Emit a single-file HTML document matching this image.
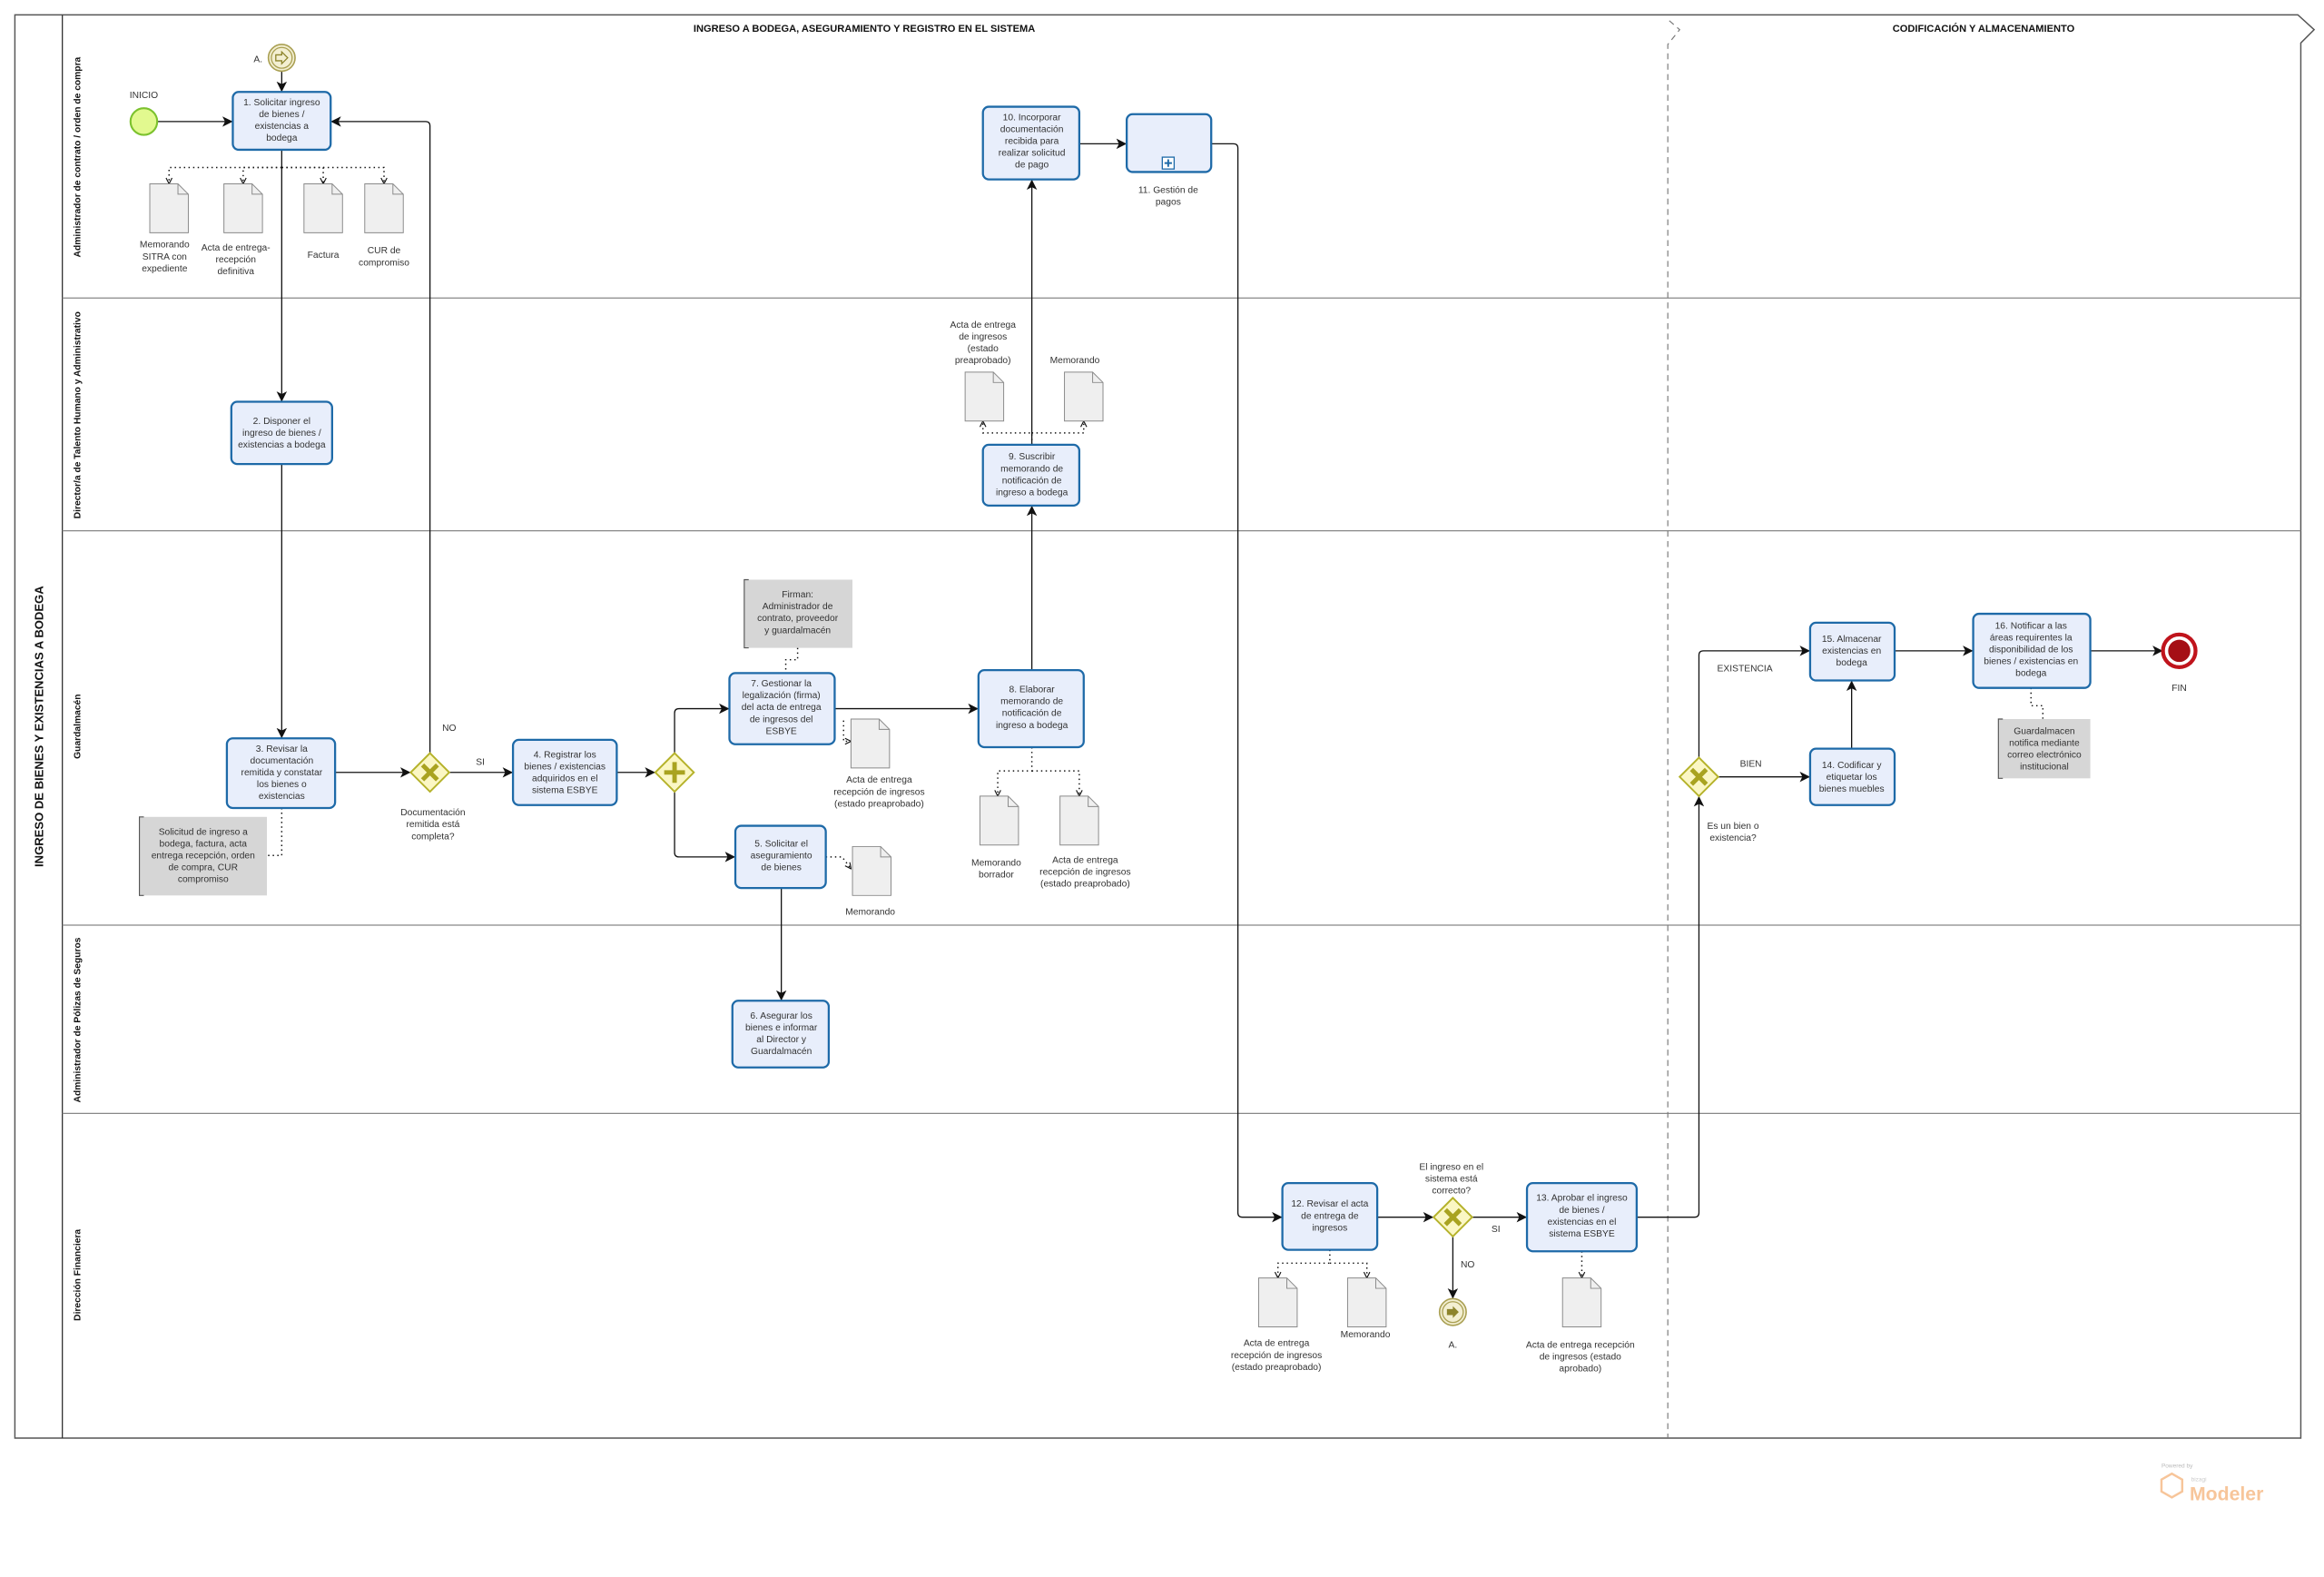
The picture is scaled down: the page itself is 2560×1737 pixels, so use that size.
<!DOCTYPE html>
<html><head><meta charset="utf-8"><style>
html,body{margin:0;padding:0;background:#fff;width:2560px;height:1737px;overflow:hidden}
svg{display:block}
text{font-family:"Liberation Sans",sans-serif;fill:#333;font-size:6.3px}
.t{text-anchor:middle}
.b{font-weight:bold;fill:#111}
.task{fill:#e8eefb;stroke:#1e6aa8;stroke-width:1.4}
.doc{fill:#efefef;stroke:#8a8a8a;stroke-width:.6}
.fl{fill:none;stroke:#111;stroke-width:.8}
.dt{fill:none;stroke:#111;stroke-width:.9;stroke-dasharray:.9 2.2}
.ann{fill:#d6d6d6;stroke:none}
.lane{stroke:#888;stroke-width:.8}
</style></head><body>
<svg width="2560" height="1737" viewBox="0 0 1567.6 1063.7" xmlns="http://www.w3.org/2000/svg">
<defs>
<marker id="a" viewBox="0 0 10 10" refX="10" refY="5" markerWidth="7" markerHeight="7" orient="auto" markerUnits="userSpaceOnUse"><path d="M0,0 L10,5 L0,10 L2.5,5 z" fill="#111"/></marker>
<marker id="o" viewBox="0 0 10 10" refX="9" refY="5" markerWidth="5" markerHeight="5" orient="auto" markerUnits="userSpaceOnUse"><path d="M1,1 L9,5 L1,9" fill="none" stroke="#111" stroke-width="1.4"/></marker>
<g id="d"><path d="M0,0 H19 L26,7 V33 H0 Z" class="doc"/><path d="M19,0 V7 H26" fill="none" stroke="#8a8a8a" stroke-width=".6"/></g>
<g id="gx"><path d="M0,-13 L13,0 L0,13 L-13,0 Z" fill="#fbf7c4" stroke="#b5b22a" stroke-width="1.2"/><path d="M-5,-5 L5,5 M5,-5 L-5,5" stroke="#a9a320" stroke-width="3"/></g>
</defs>
<!-- pool -->
<path d="M10,10 H1550 L1561,20 L1552,29 V970 H10 Z" fill="#fff" stroke="#555" stroke-width=".9"/>
<line x1="42" y1="10" x2="42" y2="970" stroke="#333" stroke-width=".8"/>
<line x1="42" y1="201" x2="1552" y2="201" class="lane"/>
<line x1="42" y1="358" x2="1552" y2="358" class="lane"/>
<line x1="42" y1="624" x2="1552" y2="624" class="lane"/>
<line x1="42" y1="751" x2="1552" y2="751" class="lane"/>
<path d="M1126,14 L1133,20 L1125,30 V970" fill="none" stroke="#777" stroke-width=".7" stroke-dasharray="4 3"/>
<text x="583" y="21.5" class="t b" style="font-size:6.8px">INGRESO A BODEGA, ASEGURAMIENTO Y REGISTRO EN EL SISTEMA</text>
<text x="1338" y="21.5" class="t b" style="font-size:6.8px">CODIFICACIÓN Y ALMACENAMIENTO</text>
<text transform="translate(29,490) rotate(-90)" class="t b" style="font-size:8px">INGRESO DE BIENES Y EXISTENCIAS A BODEGA</text>
<text transform="translate(54,106) rotate(-90)" class="t b">Administrador de contrato / orden de compra</text>
<text transform="translate(54,280) rotate(-90)" class="t b">Director/a de Talento Humano y Administrativo</text>
<text transform="translate(54,490) rotate(-90)" class="t b">Guardalmacén</text>
<text transform="translate(54,688) rotate(-90)" class="t b">Administrador de Pólizas de Seguros</text>
<text transform="translate(54,860) rotate(-90)" class="t b">Dirección Financiera</text>

<!-- flows -->
<line x1="106" y1="82" x2="157" y2="82" class="fl" marker-end="url(#a)"/>
<line x1="190" y1="48" x2="190" y2="62" class="fl" marker-end="url(#a)"/>
<line x1="190" y1="101" x2="190" y2="271" class="fl" marker-end="url(#a)"/>
<line x1="190" y1="313" x2="190" y2="498" class="fl" marker-end="url(#a)"/>
<line x1="226" y1="521" x2="277" y2="521" class="fl" marker-end="url(#a)"/>
<path d="M290,508 V85 Q290,82 287,82 H223" class="fl" marker-end="url(#a)"/>
<line x1="303" y1="521" x2="346" y2="521" class="fl" marker-end="url(#a)"/>
<line x1="416" y1="521" x2="442" y2="521" class="fl" marker-end="url(#a)"/>
<path d="M455,508 V481 Q455,478 458,478 H492" class="fl" marker-end="url(#a)"/>
<path d="M455,534 V575 Q455,578 458,578 H496" class="fl" marker-end="url(#a)"/>
<line x1="563" y1="478" x2="660" y2="478" class="fl" marker-end="url(#a)"/>
<line x1="527" y1="599" x2="527" y2="675" class="fl" marker-end="url(#a)"/>
<line x1="696" y1="452" x2="696" y2="341" class="fl" marker-end="url(#a)"/>
<line x1="696" y1="300" x2="696" y2="121" class="fl" marker-end="url(#a)"/>
<line x1="728" y1="97" x2="760" y2="97" class="fl" marker-end="url(#a)"/>
<path d="M817,97 H832 Q835,97 835,100 V818 Q835,821 838,821 H865" class="fl" marker-end="url(#a)"/>
<line x1="929" y1="821" x2="967" y2="821" class="fl" marker-end="url(#a)"/>
<line x1="993" y1="821" x2="1030" y2="821" class="fl" marker-end="url(#a)"/>
<line x1="980" y1="834" x2="980" y2="876" class="fl" marker-end="url(#a)"/>
<path d="M1104,821 H1143 Q1146,821 1146,818 V537" class="fl" marker-end="url(#a)"/>
<path d="M1146,511 V442 Q1146,439 1149,439 H1221" class="fl" marker-end="url(#a)"/>
<line x1="1159" y1="524" x2="1221" y2="524" class="fl" marker-end="url(#a)"/>
<line x1="1249" y1="505" x2="1249" y2="459" class="fl" marker-end="url(#a)"/>
<line x1="1278" y1="439" x2="1331" y2="439" class="fl" marker-end="url(#a)"/>
<line x1="1410" y1="439" x2="1459" y2="439" class="fl" marker-end="url(#a)"/>

<!-- associations -->
<path d="M190,113 H114 V124" class="dt" marker-end="url(#o)"/>
<path d="M190,113 H164 V124" class="dt" marker-end="url(#o)"/>
<path d="M190,113 H218 V124" class="dt" marker-end="url(#o)"/>
<path d="M190,113 H259 V124" class="dt" marker-end="url(#o)"/>
<path d="M190,545 V577 H180" class="dt"/>
<path d="M538,437 V445 H530 V454" class="dt"/>
<path d="M569,486 V500 H574" class="dt" marker-end="url(#o)"/>
<path d="M557,578 H568 L574,586" class="dt" marker-end="url(#o)"/>
<path d="M696,504 V520 H673 V537" class="dt" marker-end="url(#o)"/>
<path d="M696,520 H728 V537" class="dt" marker-end="url(#o)"/>
<path d="M696,300 V292 H663 V284" class="dt" marker-end="url(#o)"/>
<path d="M696,292 H731 V284" class="dt" marker-end="url(#o)"/>
<path d="M897,843 V852 H862 V862" class="dt" marker-end="url(#o)"/>
<path d="M897,852 H922 V862" class="dt" marker-end="url(#o)"/>
<path d="M1067,844 V862" class="dt" marker-end="url(#o)"/>
<path d="M1370,464 V476 H1378 V485" class="dt"/>

<!-- events -->
<circle cx="97" cy="82" r="9" fill="#e2f98f" stroke="#7cc22e" stroke-width="1.3"/>
<text x="97" y="66" class="t">INICIO</text>
<circle cx="190" cy="39" r="9" fill="#f3efd2" stroke="#aaa053" stroke-width="1"/>
<circle cx="190" cy="39" r="7" fill="none" stroke="#aaa053" stroke-width=".8"/>
<path d="M186,37 H190 V35 L194,39 L190,43 V41 H186 Z" fill="none" stroke="#8d842c" stroke-width=".8"/>
<text x="174" y="42" class="t">A.</text>
<circle cx="980" cy="885" r="9" fill="#f3efd2" stroke="#aaa053" stroke-width="1"/>
<circle cx="980" cy="885" r="7" fill="none" stroke="#aaa053" stroke-width=".8"/>
<path d="M976,883 H980 V881 L984,885 L980,889 V887 H976 Z" fill="#8d842c"/>
<text x="980" y="909" class="t">A.</text>
<circle cx="1470" cy="439" r="11" fill="#fff" stroke="#c0141c" stroke-width="2.6"/>
<circle cx="1470" cy="439" r="7.5" fill="#a50f15"/>
<text x="1470" y="466" class="t">FIN</text>

<!-- gateways -->
<use href="#gx" x="290" y="521"/>
<use href="#gx" x="980" y="821"/>
<use href="#gx" x="1146" y="524"/>
<path d="M455,508 L468,521 L455,534 L442,521 Z" fill="#fbf7c4" stroke="#b5b22a" stroke-width="1.2"/>
<path d="M455,514 V528 M448,521 H462" stroke="#a9a320" stroke-width="3"/>
<text x="303" y="493" class="t">NO</text>
<text x="324" y="516" class="t">SI</text>
<text x="292" y="550" class="t">Documentación</text><text x="292" y="558" class="t">remitida está</text><text x="292" y="566" class="t">completa?</text>
<text x="979" y="789" class="t">El ingreso en el</text><text x="979" y="797" class="t">sistema está</text><text x="979" y="805" class="t">correcto?</text>
<text x="1009" y="831" class="t">SI</text>
<text x="990" y="855" class="t">NO</text>
<text x="1177" y="453" class="t">EXISTENCIA</text>
<text x="1181" y="517" class="t">BIEN</text>
<text x="1169" y="559" class="t">Es un bien o</text><text x="1169" y="567" class="t">existencia?</text>

<!-- tasks -->
<rect x="157" y="62" width="66" height="39" rx="4" class="task"/>
<text x="190" y="71" class="t">1. Solicitar ingreso</text><text x="190" y="79" class="t">de bienes /</text><text x="190" y="87" class="t">existencias a</text><text x="190" y="95" class="t">bodega</text>
<rect x="156" y="271" width="68" height="42" rx="4" class="task"/>
<text x="190" y="286" class="t">2. Disponer el</text><text x="190" y="294" class="t">ingreso de bienes /</text><text x="190" y="302" class="t">existencias a bodega</text>
<rect x="153" y="498" width="73" height="47" rx="4" class="task"/>
<text x="190" y="507" class="t">3. Revisar la</text><text x="190" y="515" class="t">documentación</text><text x="190" y="523" class="t">remitida y constatar</text><text x="190" y="531" class="t">los bienes o</text><text x="190" y="539" class="t">existencias</text>
<rect x="346" y="499" width="70" height="44" rx="4" class="task"/>
<text x="381" y="511" class="t">4. Registrar los</text><text x="381" y="519" class="t">bienes / existencias</text><text x="381" y="527" class="t">adquiridos en el</text><text x="381" y="535" class="t">sistema ESBYE</text>
<rect x="492" y="454" width="71" height="48" rx="4" class="task"/>
<text x="527" y="463" class="t">7. Gestionar la</text><text x="527" y="471" class="t">legalización (firma)</text><text x="527" y="479" class="t">del acta de entrega</text><text x="527" y="487" class="t">de ingresos del</text><text x="527" y="495" class="t">ESBYE</text>
<rect x="496" y="557" width="61" height="42" rx="4" class="task"/>
<text x="527" y="571" class="t">5. Solicitar el</text><text x="527" y="579" class="t">aseguramiento</text><text x="527" y="587" class="t">de bienes</text>
<rect x="494" y="675" width="65" height="45" rx="4" class="task"/>
<text x="527" y="687" class="t">6. Asegurar los</text><text x="527" y="695" class="t">bienes e informar</text><text x="527" y="703" class="t">al Director y</text><text x="527" y="711" class="t">Guardalmacén</text>
<rect x="660" y="452" width="71" height="52" rx="4" class="task"/>
<text x="696" y="467" class="t">8. Elaborar</text><text x="696" y="475" class="t">memorando de</text><text x="696" y="483" class="t">notificación de</text><text x="696" y="491" class="t">ingreso a bodega</text>
<rect x="663" y="300" width="65" height="41" rx="4" class="task"/>
<text x="696" y="310" class="t">9. Suscribir</text><text x="696" y="318" class="t">memorando de</text><text x="696" y="326" class="t">notificación de</text><text x="696" y="334" class="t">ingreso a bodega</text>
<rect x="663" y="72" width="65" height="49" rx="4" class="task"/>
<text x="696" y="81" class="t">10. Incorporar</text><text x="696" y="89" class="t">documentación</text><text x="696" y="97" class="t">recibida para</text><text x="696" y="105" class="t">realizar solicitud</text><text x="696" y="113" class="t">de pago</text>
<rect x="760" y="77" width="57" height="39" rx="4" class="task"/>
<rect x="784" y="106" width="8" height="8" fill="#fff" stroke="#1e6aa8" stroke-width=".8"/>
<path d="M788,107.5 V112.5 M785.5,110 H790.5" stroke="#1e6aa8" stroke-width="1.2"/>
<text x="788" y="130" class="t">11. Gestión de</text><text x="788" y="138" class="t">pagos</text>
<rect x="865" y="798" width="64" height="45" rx="4" class="task"/>
<text x="897" y="814" class="t">12. Revisar el acta</text><text x="897" y="822" class="t">de entrega de</text><text x="897" y="830" class="t">ingresos</text>
<rect x="1030" y="798" width="74" height="46" rx="4" class="task"/>
<text x="1067" y="810" class="t">13. Aprobar el ingreso</text><text x="1067" y="818" class="t">de bienes /</text><text x="1067" y="826" class="t">existencias en el</text><text x="1067" y="834" class="t">sistema ESBYE</text>
<rect x="1221" y="505" width="57" height="38" rx="4" class="task"/>
<text x="1249" y="518" class="t">14. Codificar y</text><text x="1249" y="526" class="t">etiquetar los</text><text x="1249" y="534" class="t">bienes muebles</text>
<rect x="1221" y="420" width="57" height="39" rx="4" class="task"/>
<text x="1249" y="433" class="t">15. Almacenar</text><text x="1249" y="441" class="t">existencias en</text><text x="1249" y="449" class="t">bodega</text>
<rect x="1331" y="414" width="79" height="50" rx="4" class="task"/>
<text x="1370" y="424" class="t">16. Notificar a las</text><text x="1370" y="432" class="t">áreas requirentes la</text><text x="1370" y="440" class="t">disponibilidad de los</text><text x="1370" y="448" class="t">bienes / existencias en</text><text x="1370" y="456" class="t">bodega</text>

<!-- annotations -->
<rect x="94" y="551" width="86" height="53" class="ann"/><path d="M97,551 H94 V604 H97" fill="none" stroke="#555" stroke-width=".7"/>
<text x="137" y="563" class="t">Solicitud de ingreso a</text><text x="137" y="571" class="t">bodega, factura, acta</text><text x="137" y="579" class="t">entrega recepción, orden</text><text x="137" y="587" class="t">de compra, CUR</text><text x="137" y="595" class="t">compromiso</text>
<rect x="502" y="391" width="73" height="46" class="ann"/><path d="M505,391 H502 V437 H505" fill="none" stroke="#555" stroke-width=".7"/>
<text x="538" y="403" class="t">Firman:</text><text x="538" y="411" class="t">Administrador de</text><text x="538" y="419" class="t">contrato, proveedor</text><text x="538" y="427" class="t">y guardalmacén</text>
<rect x="1348" y="485" width="62" height="40" class="ann"/><path d="M1351,485 H1348 V525 H1351" fill="none" stroke="#555" stroke-width=".7"/>
<text x="1379" y="495" class="t">Guardalmacen</text><text x="1379" y="503" class="t">notifica mediante</text><text x="1379" y="511" class="t">correo electrónico</text><text x="1379" y="519" class="t">institucional</text>

<!-- documents -->
<use href="#d" x="101" y="124"/><use href="#d" x="151" y="124"/><use href="#d" x="205" y="124"/><use href="#d" x="246" y="124"/>
<text x="111" y="167" class="t">Memorando</text><text x="111" y="175" class="t">SITRA con</text><text x="111" y="183" class="t">expediente</text>
<text x="159" y="169" class="t">Acta de entrega-</text><text x="159" y="177" class="t">recepción</text><text x="159" y="185" class="t">definitiva</text>
<text x="218" y="174" class="t">Factura</text>
<text x="259" y="171" class="t">CUR de</text><text x="259" y="179" class="t">compromiso</text>
<use href="#d" x="574" y="485"/>
<text x="593" y="528" class="t">Acta de entrega</text><text x="593" y="536" class="t">recepción de ingresos</text><text x="593" y="544" class="t">(estado preaprobado)</text>
<use href="#d" x="575" y="571"/>
<text x="587" y="617" class="t">Memorando</text>
<use href="#d" x="661" y="537"/><use href="#d" x="715" y="537"/>
<text x="672" y="584" class="t">Memorando</text><text x="672" y="592" class="t">borrador</text>
<text x="732" y="582" class="t">Acta de entrega</text><text x="732" y="590" class="t">recepción de ingresos</text><text x="732" y="598" class="t">(estado preaprobado)</text>
<use href="#d" x="651" y="251"/><use href="#d" x="718" y="251"/>
<text x="663" y="221" class="t">Acta de entrega</text><text x="663" y="229" class="t">de ingresos</text><text x="663" y="237" class="t">(estado</text><text x="663" y="245" class="t">preaprobado)</text>
<text x="725" y="245" class="t">Memorando</text>
<use href="#d" x="849" y="862"/><use href="#d" x="909" y="862"/>
<text x="861" y="908" class="t">Acta de entrega</text><text x="861" y="916" class="t">recepción de ingresos</text><text x="861" y="924" class="t">(estado preaprobado)</text>
<text x="921" y="902" class="t">Memorando</text>
<use href="#d" x="1054" y="862"/>
<text x="1066" y="909" class="t">Acta de entrega recepción</text><text x="1066" y="917" class="t">de ingresos (estado</text><text x="1066" y="925" class="t">aprobado)</text>

<!-- watermark -->
<text x="1458" y="990" style="font-size:4px;fill:#bbb">Powered by</text>
<path d="M1458,998 L1465,994 L1472,998 V1006 L1465,1010 L1458,1006 Z" fill="none" stroke="#f7c59a" stroke-width="1.5"/>
<text x="1478" y="999" style="font-size:4px;fill:#ccc">bizagi</text>
<text x="1477" y="1012" style="font-size:13px;fill:#f7c59a;font-weight:bold">Modeler</text>
</svg>
</body></html>
